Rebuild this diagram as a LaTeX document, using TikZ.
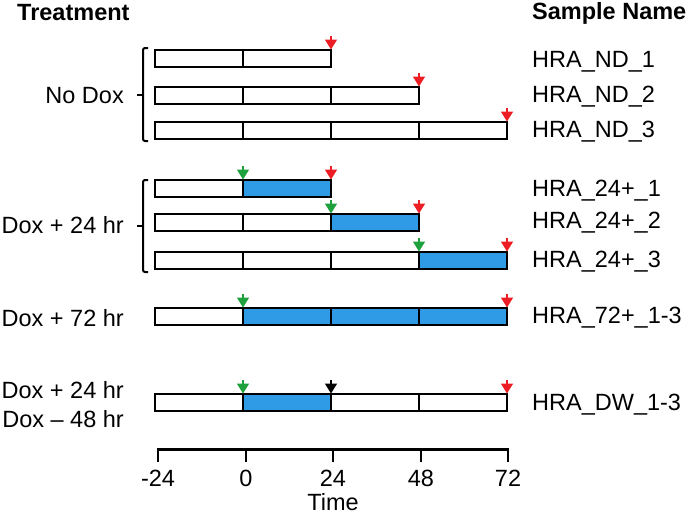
\documentclass[tikz,border=0pt]{standalone}
\usepackage{fontspec}
\setmainfont{Liberation Sans}
\usetikzlibrary{arrows.meta}
\definecolor{dxblue}{RGB}{47,154,230}
\definecolor{dxred}{RGB}{236,30,36}
\definecolor{dxgreen}{RGB}{30,160,60}
\tikzset{
  barline/.style={line width=2pt, draw=black},
  divline/.style={line width=1.4pt, draw=black},
  markarrow/.style={line width=1.6pt, -{Triangle[width=12pt,length=10pt]}},
  bracketline/.style={line width=2pt, rounded corners=2pt},
  lbl/.style={font=\fontsize{23.5}{27}\selectfont, inner sep=0pt},
  hdr/.style={font=\fontsize{23.5}{27}\selectfont\bfseries, inner sep=0pt},
}
\newcommand{\drawtimebar}[5]{%
  \fill[dxblue] (#3,#1) rectangle (#4,#1+17);
  \foreach \dx in {#5} \draw[divline] (\dx,#1) -- (\dx,#1+17);
  \draw[barline] (155,#1) rectangle (#2,#1+17);
}
\newcommand{\timemarker}[3]{%
  \draw[markarrow,draw=#3,fill=#3] (#1,#2-14) -- (#1,#2-0.5);
}
\begin{document}
\begin{tikzpicture}[x=1pt,y=-1pt]
\useasboundingbox (0,0) rectangle (689,515);
% headers
\node[hdr, anchor=base west] (hTreat) at (17,20) {Treatment};
\node[hdr, anchor=base west] (hSample) at (532,19) {Sample Name};
% No Dox group
\drawtimebar{50}{331}{155}{155}{243}
\drawtimebar{87}{419}{155}{155}{243,331}
\drawtimebar{122}{507}{155}{155}{243,331,419}
\timemarker{331}{50}{dxred}
\timemarker{419}{87}{dxred}
\timemarker{507}{122}{dxred}
\draw[bracketline] (148,48) -- (143,48) -- (143,141) -- (148,141);
\draw[line width=2pt] (137,95) -- (143,95);
\node[lbl, anchor=base east] (tNoDox) at (124,103) {No Dox};
\node[lbl, anchor=base west] (sND1) at (532,67) {HRA\_ND\_1};
\node[lbl, anchor=base west] (sND2) at (532,102) {HRA\_ND\_2};
\node[lbl, anchor=base west] (sND3) at (532,137) {HRA\_ND\_3};
% Dox + 24 group
\drawtimebar{180}{331}{243}{331}{243}
\drawtimebar{214}{419}{331}{419}{243,331}
\drawtimebar{252}{507}{419}{507}{243,331,419}
\timemarker{243}{180}{dxgreen}
\timemarker{331}{180}{dxred}
\timemarker{331}{214}{dxgreen}
\timemarker{419}{214}{dxred}
\timemarker{419}{252}{dxgreen}
\timemarker{507}{252}{dxred}
\draw[bracketline] (148,180) -- (143,180) -- (143,272) -- (148,272);
\draw[line width=2pt] (137,226) -- (143,226);
\node[lbl, anchor=base east] (tDox24) at (124,233) {Dox + 24 hr};
\node[lbl, anchor=base west] (s241) at (532,196) {HRA\_24+\_1};
\node[lbl, anchor=base west] (s242) at (532,228) {HRA\_24+\_2};
\node[lbl, anchor=base west] (s243) at (532,267) {HRA\_24+\_3};
% Dox + 72
\drawtimebar{308}{507}{243}{507}{243,331,419}
\timemarker{243}{308}{dxgreen}
\timemarker{507}{308}{dxred}
\node[lbl, anchor=base east] (tDox72) at (124,326) {Dox + 72 hr};
\node[lbl, anchor=base west] (s72) at (532,323) {HRA\_72+\_1-3};
% DW
\drawtimebar{394}{507}{243}{331}{243,331,419}
\timemarker{243}{394}{dxgreen}
\timemarker{331}{394}{black}
\timemarker{507}{394}{dxred}
\node[lbl, anchor=base east] (tDW1) at (124,398) {Dox + 24 hr};
\node[lbl, anchor=base east] (tDW2) at (124,427) {Dox \textendash\ 48 hr};
\node[lbl, anchor=base west] (sDW) at (532,410) {HRA\_DW\_1-3};
% time axis
\draw[line width=3pt] (157,449) -- (508.5,449);
\foreach \tx/\tl [count=\i] in {158/-24,246/0,333/24,421/48,508/72}{
  \draw[line width=1.6pt] (\tx,449) -- (\tx,462);
  \node[lbl, anchor=base] (ax\i) at (\tx,486) {\tl};
}
\node[lbl, anchor=base] (tTime) at (333,510) {Time};
\end{tikzpicture}
\end{document}
